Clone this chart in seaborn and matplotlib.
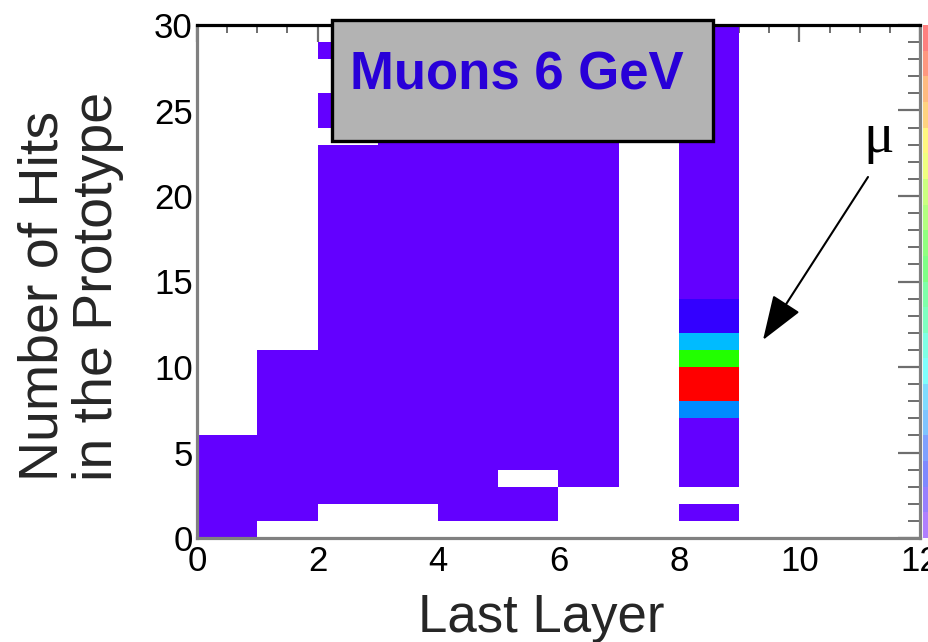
import colorsys

import matplotlib
matplotlib.use("Agg")
import matplotlib.pyplot as plt
from matplotlib.colors import ListedColormap
from matplotlib.patches import Rectangle
from matplotlib.ticker import MultipleLocator
import pandas as pd
import seaborn as sns

# Entries per (last layer, number of hits) bin; each list runs over hits 0..29
layer_0 = [1, 1, 1, 1, 1, 1, 0, 0, 0, 0, 0, 0, 0, 0, 0, 0, 0, 0, 0, 0, 0, 0, 0, 0, 0, 0, 0, 0, 0, 0]
layer_1 = [0, 1, 1, 1, 1, 1, 1, 1, 1, 1, 1, 0, 0, 0, 0, 0, 0, 0, 0, 0, 0, 0, 0, 0, 0, 0, 0, 0, 0, 0]
layer_2 = [0, 0, 1, 1, 1, 1, 1, 1, 1, 1, 1, 1, 1, 1, 1, 1, 1, 1, 1, 1, 1, 1, 1, 0, 1, 1, 0, 0, 1, 0]
layer_3 = [0, 0, 1, 1, 1, 1, 1, 1, 1, 1, 1, 1, 1, 1, 1, 1, 1, 1, 1, 1, 1, 1, 1, 1, 1, 1, 1, 1, 1, 1]
layer_4 = [0, 1, 1, 1, 1, 1, 1, 1, 1, 1, 1, 1, 1, 1, 1, 1, 1, 1, 1, 1, 1, 1, 1, 1, 1, 1, 1, 1, 1, 1]
layer_5 = [0, 1, 1, 0, 1, 1, 1, 1, 1, 1, 1, 1, 1, 1, 1, 1, 1, 1, 1, 1, 1, 1, 1, 1, 1, 1, 1, 1, 1, 1]
layer_6 = [0, 0, 0, 1, 1, 1, 1, 1, 1, 1, 1, 1, 1, 1, 1, 1, 1, 1, 1, 1, 1, 1, 1, 1, 1, 1, 1, 1, 1, 1]
layer_7 = [0, 0, 0, 0, 0, 0, 0, 0, 0, 0, 0, 0, 0, 0, 0, 0, 0, 0, 0, 0, 0, 0, 0, 0, 0, 0, 0, 0, 0, 0]
layer_8 = [0, 1, 0, 1, 1, 1, 1, 9, 38, 40, 23, 11, 3, 2, 1, 1, 1, 1, 1, 1, 1, 1, 1, 1, 1, 1, 1, 1, 1, 1]
layer_9 = [0, 0, 0, 0, 0, 0, 0, 0, 0, 0, 0, 0, 0, 0, 0, 0, 0, 0, 0, 0, 0, 0, 0, 0, 0, 0, 0, 0, 0, 0]
layer_10 = [0, 0, 0, 0, 0, 0, 0, 0, 0, 0, 0, 0, 0, 0, 0, 0, 0, 0, 0, 0, 0, 0, 0, 0, 0, 0, 0, 0, 0, 0]
layer_11 = [0, 0, 0, 0, 0, 0, 0, 0, 0, 0, 0, 0, 0, 0, 0, 0, 0, 0, 0, 0, 0, 0, 0, 0, 0, 0, 0, 0, 0, 0]

hits = list(range(30))
x_ticks = [0, 2, 4, 6, 8, 10, 12]
y_ticks = [0, 5, 10, 15, 20, 25, 30]
z_max = 40

columns = [layer_0, layer_1, layer_2, layer_3, layer_4, layer_5,
           layer_6, layer_7, layer_8, layer_9, layer_10, layer_11]
counts = pd.DataFrame({i: col for i, col in enumerate(columns)}, index=hits)

# Rainbow palette (50 hues from violet to red), sampled on 20 contour levels
palette50 = [colorsys.hls_to_rgb((280 - (i + 1) * 5.6) / 360.0, 0.5, 1.0) for i in range(50)]
levels = [palette50[int((c + 0.99) * 50 / 20)] for c in range(20)]
cmap = ListedColormap(levels)

sns.set_style("white")
plt.rcParams["font.family"] = ["Liberation Sans", "DejaVu Sans"]

W, H = 929, 642
fig = plt.figure(figsize=(W / 100, H / 100), dpi=100)
ax = fig.add_axes([197 / W, (H - 538) / H, (920 - 197) / W, (538 - 25) / H])
cax = fig.add_axes([923 / W, (H - 538) / H, 9 / W, (538 - 25) / H])

sns.heatmap(counts, mask=(counts == 0), cmap=cmap, vmin=0, vmax=z_max,
            ax=ax, cbar_ax=cax, xticklabels=False, yticklabels=False,
            linewidths=0)

ax.set_xlim(0, 12)
ax.set_ylim(0, 30)
ax.set_facecolor("white")

# colour scale strip at the right edge
cb = ax.collections[0].colorbar
cb.outline.set_visible(False)
cb.solids.set_alpha(0.5)
cax.set_yticks([])
cax.set_xticks([])

# frame
for name, spine in ax.spines.items():
    spine.set_visible(True)
    spine.set_color("black" if name == "top" else "#808080")
    spine.set_linewidth(2.3)

ax.set_xticks(x_ticks)
ax.set_xticklabels([str(v) for v in x_ticks], rotation=0)
ax.set_yticks(y_ticks)
ax.set_yticklabels([str(v) for v in y_ticks], rotation=0)
ax.xaxis.set_minor_locator(MultipleLocator(0.5))
ax.yaxis.set_minor_locator(MultipleLocator(1))
ax.tick_params(axis="both", which="both", direction="in", top=True, right=True,
               color="#6e6e6e", labelcolor="black", labelsize=25)
ax.tick_params(axis="x", which="major", length=12, width=1.6, pad=5)
ax.tick_params(axis="x", which="minor", length=6, width=1.4)
ax.tick_params(axis="y", which="major", length=15.5, width=1.6, pad=3)
ax.tick_params(axis="y", which="minor", length=8.5, width=1.4)

# axis titles
ax.set_xlabel("Last Layer", fontsize=38)
ax.xaxis.set_label_coords(541 / W, (H - 632) / H, transform=fig.transFigure)
ax.xaxis.label.set_va("baseline")

ax.set_ylabel("Number of Hits\nin the Prototype", fontsize=40,
              multialignment="left", linespacing=1.05)
ax.yaxis.set_label_coords(124 / W, (H - 286) / H, transform=fig.transFigure)

# title box
box = Rectangle((332 / W, (H - 141) / H), (713 - 332) / W, (141 - 20) / H,
                transform=fig.transFigure, facecolor="#b3b3b3",
                edgecolor="black", linewidth=2.4, zorder=5)
fig.add_artist(box)
fig.text(516.5 / W, (H - 89) / H, "Muons 6 GeV", ha="center", va="baseline",
         fontsize=38, fontweight="bold", color="#2800d8", zorder=6)

# muon arrow
ax.annotate("", xy=(763 / W, (H - 340) / H), xytext=(868 / W, (H - 177) / H),
            xycoords="figure fraction", textcoords="figure fraction",
            arrowprops=dict(arrowstyle="-|>,head_length=1.4,head_width=0.5",
                            mutation_scale=20, color="black", lw=1.5,
                            shrinkA=0, shrinkB=0),
            annotation_clip=False)
fig.text(879 / W, (H - 152) / H, "\u03bc", ha="center", va="baseline",
         fontsize=41, family=["Liberation Serif", "DejaVu Serif"], color="black")

fig.savefig("out.png", dpi=100)
